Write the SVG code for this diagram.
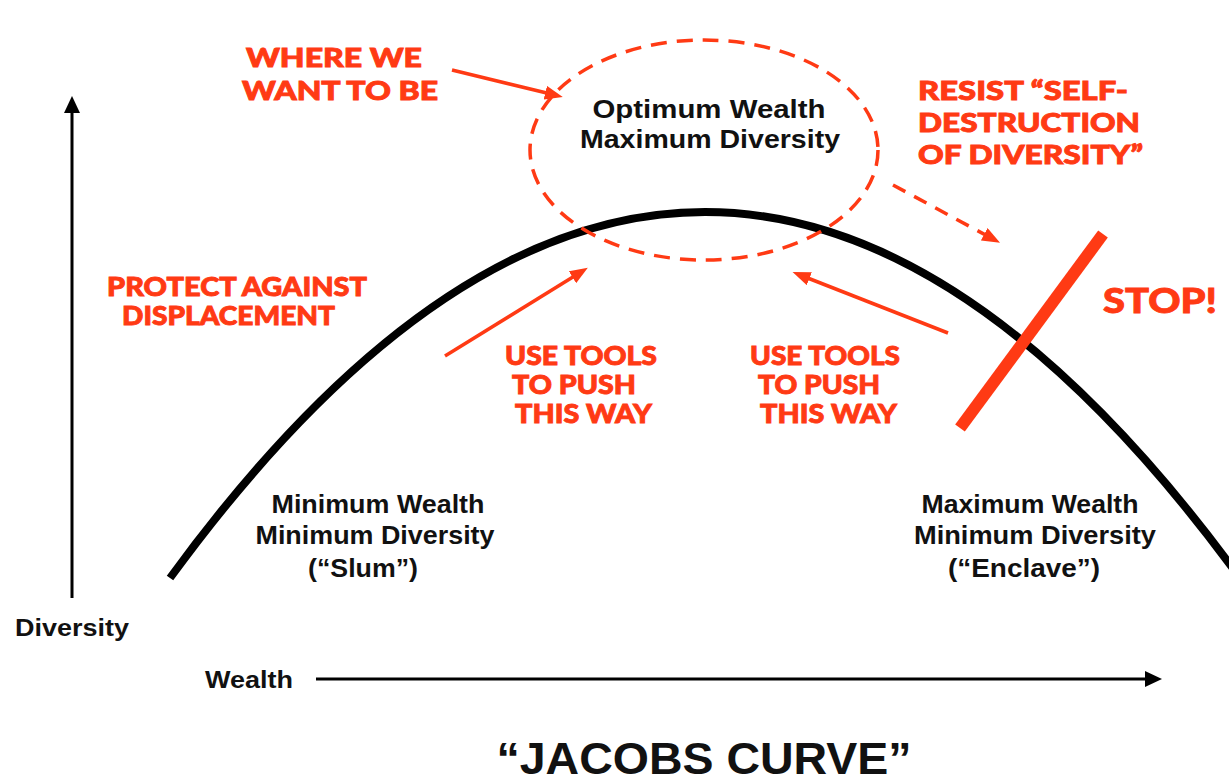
<svg xmlns="http://www.w3.org/2000/svg" width="1229" height="784" viewBox="0 0 1229 784">
<style>
.blk{font-family:"Liberation Sans",Arial,sans-serif;font-weight:bold;fill:#111;}
.red{font-family:Lato,"Open Sans",sans-serif;font-weight:900;fill:#FF3A14;stroke:#FF3A14;stroke-width:0.9;font-size:26px;}
.rl{stroke:#FF3A14;stroke-width:3.5;fill:none;}
</style>
<defs>
<marker id="ra" viewBox="0 0 18 14" refX="10" refY="7" markerWidth="18" markerHeight="14" markerUnits="userSpaceOnUse" orient="auto"><path d="M0,0 L18,7 L0,14 z" fill="#FF3A14"/></marker>
<marker id="ka" viewBox="0 0 17 16" refX="9" refY="8" markerWidth="17" markerHeight="16" markerUnits="userSpaceOnUse" orient="auto"><path d="M0,0 L17,8 L0,16 z" fill="#000"/></marker>
</defs>
<rect width="1229" height="784" fill="#fff"/>
<g id="axes">
<line x1="72" y1="598" x2="72" y2="104" stroke="#000" stroke-width="3" marker-end="url(#ka)"/>
<line x1="316" y1="679" x2="1154" y2="679" stroke="#000" stroke-width="3" marker-end="url(#ka)"/>
<text class="blk" x="15" y="636" font-size="23" textLength="114" lengthAdjust="spacingAndGlyphs">Diversity</text>
<text class="blk" x="205" y="688" font-size="23" textLength="88" lengthAdjust="spacingAndGlyphs">Wealth</text>
</g>
<g id="curve">
<path d="M170,578 Q705,-154 1240,578" fill="none" stroke="#000" stroke-width="8"/>
</g>
<g id="optimum">
<ellipse cx="704" cy="150" rx="174" ry="110" fill="none" stroke="#FF3A14" stroke-width="3.5" stroke-dasharray="16 10"/>
<text class="blk" x="709" y="118" font-size="25" text-anchor="middle" textLength="233" lengthAdjust="spacingAndGlyphs">Optimum Wealth</text>
<text class="blk" x="710" y="148" font-size="25" text-anchor="middle" textLength="260" lengthAdjust="spacingAndGlyphs">Maximum Diversity</text>
</g>
<g id="slum">
<text class="blk" x="378" y="513" font-size="25" text-anchor="middle" textLength="213" lengthAdjust="spacingAndGlyphs">Minimum Wealth</text>
<text class="blk" x="375" y="544" font-size="25" text-anchor="middle" textLength="239" lengthAdjust="spacingAndGlyphs">Minimum Diversity</text>
<text class="blk" x="363" y="577" font-size="25" text-anchor="middle" textLength="110" lengthAdjust="spacingAndGlyphs">(“Slum”)</text>
</g>
<g id="enclave">
<text class="blk" x="1030" y="513" font-size="25" text-anchor="middle" textLength="217" lengthAdjust="spacingAndGlyphs">Maximum Wealth</text>
<text class="blk" x="1035" y="544" font-size="25" text-anchor="middle" textLength="242" lengthAdjust="spacingAndGlyphs">Minimum Diversity</text>
<text class="blk" x="1024" y="577" font-size="25" text-anchor="middle" textLength="152" lengthAdjust="spacingAndGlyphs">(“Enclave”)</text>
</g>
<g id="where">
<text class="red" x="246" y="67" textLength="176" lengthAdjust="spacingAndGlyphs">WHERE WE</text>
<text class="red" x="242" y="100" textLength="196" lengthAdjust="spacingAndGlyphs">WANT TO BE</text>
</g>
<g id="resist">
<text class="red" x="918" y="100" textLength="210" lengthAdjust="spacingAndGlyphs">RESIST “SELF-</text>
<text class="red" x="918" y="132" textLength="222" lengthAdjust="spacingAndGlyphs">DESTRUCTION</text>
<text class="red" x="918" y="164" textLength="225" lengthAdjust="spacingAndGlyphs">OF DIVERSITY”</text>
</g>
<g id="protect">
<text class="red" x="107" y="296" textLength="260" lengthAdjust="spacingAndGlyphs">PROTECT AGAINST</text>
<text class="red" x="122" y="325" textLength="213" lengthAdjust="spacingAndGlyphs">DISPLACEMENT</text>
</g>
<g id="push-left">
<text class="red" x="505" y="365" textLength="152" lengthAdjust="spacingAndGlyphs">USE TOOLS</text>
<text class="red" x="512" y="394" textLength="124" lengthAdjust="spacingAndGlyphs">TO PUSH</text>
<text class="red" x="515" y="423" textLength="137" lengthAdjust="spacingAndGlyphs">THIS WAY</text>
</g>
<g id="push-right">
<text class="red" x="750" y="365" textLength="150" lengthAdjust="spacingAndGlyphs">USE TOOLS</text>
<text class="red" x="758" y="394" textLength="122" lengthAdjust="spacingAndGlyphs">TO PUSH</text>
<text class="red" x="760" y="423" textLength="137" lengthAdjust="spacingAndGlyphs">THIS WAY</text>
</g>
<g id="stop">
<line x1="960" y1="428" x2="1103" y2="234" stroke="#FF3A14" stroke-width="12"/>
<text class="red" x="1103" y="313" style="font-size:35px" textLength="114" lengthAdjust="spacingAndGlyphs">STOP!</text>
</g>
<g id="connectors">
<line class="rl" x1="452" y1="70" x2="555" y2="95" marker-end="url(#ra)"/>
<line class="rl" x1="445" y1="356" x2="581" y2="272" marker-end="url(#ra)"/>
<line class="rl" x1="948" y1="333" x2="800" y2="275" marker-end="url(#ra)"/>
<line class="rl" x1="893" y1="185" x2="993" y2="239" stroke-dasharray="14 10" marker-end="url(#ra)"/>
</g>
<g id="title">
<text class="blk" x="704" y="774" font-size="44" text-anchor="middle" textLength="415" lengthAdjust="spacingAndGlyphs">“JACOBS CURVE”</text>
</g>
</svg>
